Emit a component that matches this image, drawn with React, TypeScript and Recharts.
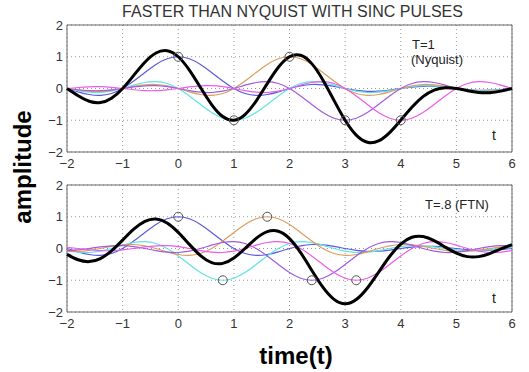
import React from 'react';
import { ComposedChart, Line, XAxis, YAxis, CartesianGrid, ReferenceArea, ReferenceDot } from 'recharts';

// time grid (step 0.2) used for every curve
const T_GRID = [
  -2, -1.8, -1.6, -1.4, -1.2, -1, -0.8, -0.6, -0.4, -0.2,
  0, 0.2, 0.4, 0.6, 0.8, 1, 1.2, 1.4, 1.6, 1.8,
  2, 2.2, 2.4, 2.6, 2.8, 3, 3.2, 3.4, 3.6, 3.8,
  4, 4.2, 4.4, 4.6, 4.8, 5, 5.2, 5.4, 5.6, 5.8, 6,
];

// sinc pulse shape sampled at |x| = 0, 0.2, 0.4, ... 6
const PULSE = [
  1, 0.9355, 0.7568, 0.5046, 0.2339, 0, -0.1559, -0.2162, -0.1892, -0.1039,
  0, 0.085, 0.1261, 0.1164, 0.0668, 0, -0.0585, -0.089, -0.0841, -0.0492,
  0, 0.0445, 0.0688, 0.0658, 0.039, 0, -0.036, -0.0561, -0.0541, -0.0323, 0,
];

const SYMBOLS = [1, -1, 1, -1, -1];
const NYQ_TIMES = [0, 1, 2, 3, 4];
const FTN_TIMES = [0, 0.8, 1.6, 2.4, 3.2];

const X_TICKS = [-2, -1, 0, 1, 2, 3, 4, 5, 6];
const Y_TICKS = [-2, -1, 0, 1, 2];

const COLORS = ['#5a5ae0', '#5ee4e4', '#dc9e5c', '#a05ce0', '#ec5cec'];

const pulseAt = (x: number) => {
  const k = Math.round(Math.abs(x) / 0.2);
  return PULSE[k] ?? 0;
};

const buildRows = (times: number[]) =>
  T_GRID.map(t => {
    const row: Record<string, number> = { t };
    let sum = 0;
    times.forEach((s, i) => {
      const v = SYMBOLS[i] * pulseAt(t - s);
      row['p' + i] = v;
      sum += v;
    });
    row.sum = sum;
    return row;
  });

const fmt = (v: number) => String(v).replace('-', '\u2212');
const tickStyle = { fill: '#333', fontSize: 13, fontFamily: 'Liberation Sans, Arial, sans-serif' };
const font = 'Liberation Sans, Arial, sans-serif';

const Panel: React.FC<{ times: number[]; top: number }> = ({ times, top }) => {
  const data = buildRows(times);
  return (
    <div style={{ position: 'absolute', left: 0, top }}>
      <ComposedChart width={529} height={175} data={data} margin={{ top: 25, right: 17, left: 0, bottom: 3 }}>
        <CartesianGrid stroke="#999" strokeDasharray="1 3" />
        <XAxis dataKey="t" type="number" domain={[-2, 6]} ticks={X_TICKS} tickFormatter={fmt}
          axisLine={false} tickLine={false} tickSize={2} tickMargin={5} height={20} tick={tickStyle} interval={0} />
        <YAxis type="number" domain={[-2, 2]} ticks={Y_TICKS} tickFormatter={fmt}
          axisLine={false} tickLine={false} tickSize={2} tickMargin={2} width={67} tick={tickStyle} interval={0} />
        <ReferenceArea x1={-2} x2={6} y1={-2} y2={2} fill="none" stroke="#666" strokeWidth={1} />
        {times.map((_, i) => (
          <Line key={i} dataKey={'p' + i} type="natural" stroke={COLORS[i]} strokeWidth={1.2} dot={false} isAnimationActive={false} />
        ))}
        <Line dataKey="sum" type="natural" stroke="#000" strokeWidth={3} dot={false} isAnimationActive={false} />
        {times.map((s, i) => (
          <ReferenceDot key={'d' + i} x={s} y={SYMBOLS[i]} r={4.5} fill="none" stroke="#555" strokeWidth={1} />
        ))}
      </ComposedChart>
    </div>
  );
};

export default function App() {
  return (
    <div style={{ position: 'absolute', left: 0, top: 0, width: 529, height: 372, background: '#fff', fontFamily: font }}>
      <div style={{ position: 'absolute', left: 0, width: 585, top: 3, textAlign: 'center', fontSize: 16, color: '#333' }}>
        FASTER THAN NYQUIST WITH SINC PULSES
      </div>
      <Panel times={NYQ_TIMES} top={0} />
      <Panel times={FTN_TIMES} top={160} />
      <div style={{ position: 'absolute', left: 412, top: 37, fontSize: 13, color: '#222' }}>T=1</div>
      <div style={{ position: 'absolute', left: 411, top: 52, fontSize: 13, color: '#222' }}>(Nyquist)</div>
      <div style={{ position: 'absolute', left: 492, top: 127, fontSize: 14, color: '#222' }}>t</div>
      <div style={{ position: 'absolute', left: 425, top: 197, fontSize: 13, color: '#222' }}>T=.8 (FTN)</div>
      <div style={{ position: 'absolute', left: 492, top: 290, fontSize: 14, color: '#222' }}>t</div>
      <div style={{ position: 'absolute', left: 196, width: 200, top: 342, textAlign: 'center', fontSize: 24, fontWeight: 'bold', color: '#000' }}>
        time(t)
      </div>
      <div style={{ position: 'absolute', left: 23, top: 167, transform: 'translate(-50%, -50%) rotate(-90deg)', fontSize: 24, fontWeight: 'bold', color: '#000', whiteSpace: 'nowrap' }}>
        amplitude
      </div>
    </div>
  );
}
